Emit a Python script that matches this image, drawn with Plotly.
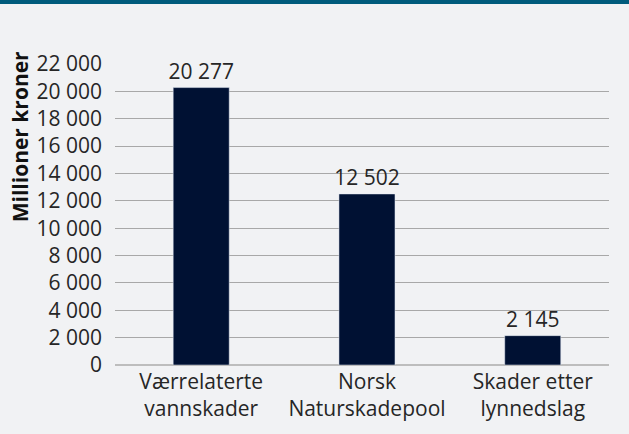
import plotly.graph_objects as go

# data
categories = ["Værrelaterte<br>vannskader", "Norsk<br>Naturskadepool", "Skader etter<br>lynnedslag"]
values = [20277, 12502, 2145]
value_labels = ["20 277", "12 502", "2 145"]
tick_vals = list(range(0, 22001, 2000))
tick_text = ["0" if v == 0 else f"{v // 1000} 000" for v in tick_vals]

bg = "#F1F2F4"
text_col = "#262626"

fig = go.Figure(go.Bar(
    x=categories,
    y=values,
    text=value_labels,
    textposition="outside",
    constraintext="none",
    textfont=dict(size=21, color=text_col),
    marker_color="#001133",
    width=0.338,
    cliponaxis=False,
    hoverinfo="skip",
))

fig.update_layout(
    width=629, height=434,
    margin=dict(l=115, r=20, t=64, b=69),
    paper_bgcolor=bg, plot_bgcolor=bg,
    font=dict(family="Open Sans", size=21, color=text_col),
    showlegend=False,
    uniformtext=dict(minsize=21, mode="show"),
)

fig.update_yaxes(
    range=[0, 22000],
    tickvals=tick_vals, ticktext=tick_text,
    showgrid=True, gridcolor="#A8A8A8", gridwidth=1,
    zeroline=True, zerolinecolor="#BDBDBD", zerolinewidth=1.5,
    showline=False,
    ticks="", ticklabelstandoff=12,
    fixedrange=True,
)
fig.update_xaxes(range=[-0.52, 2.46], showline=False, ticks="",
                 ticklabelstandoff=2, fixedrange=True)

# y-axis title sits high on the left, as in the source chart
fig.add_annotation(text="<b>Millioner kroner</b>", textangle=-90,
                   xref="paper", yref="paper", x=-0.192, y=0.757,
                   xanchor="center", yanchor="middle", showarrow=False,
                   font=dict(size=21, color="#111111"))

# dark band along the top edge
fig.add_shape(type="rect", xref="paper", yref="paper",
              x0=-0.3, x1=1.1, y0=1 + 60 / 301, y1=1.25,
              fillcolor="#005B7C", line_width=0, layer="above")

# no page margin around the figure
fig.write_html("out.html", config={"displayModeBar": False},
               post_script="document.body.style.margin='0';document.body.style.overflow='hidden';")
